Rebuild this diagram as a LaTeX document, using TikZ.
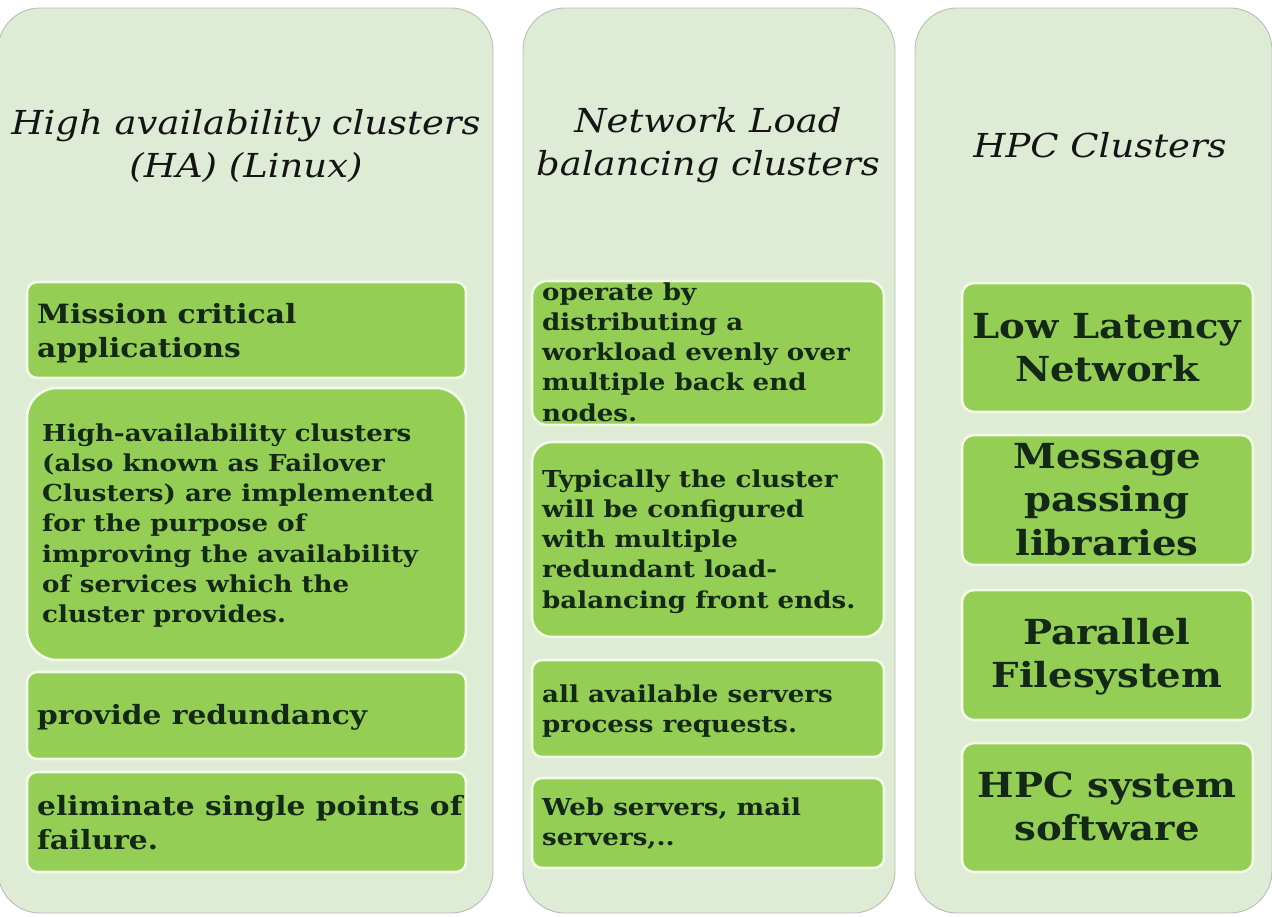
\documentclass[tikz,border=0pt]{standalone}
\usepackage{fontspec}
\setmainfont{DejaVu Serif}[FakeStretch=1.12]
\usetikzlibrary{fit}

\definecolor{colbg}{HTML}{DEECD6}
\definecolor{colrim}{HTML}{B9BEB6}
\definecolor{boxfill}{HTML}{94CE55}
\definecolor{boxrim}{HTML}{F2F9E6}
\definecolor{inkgreen}{HTML}{142818}
\definecolor{inktitle}{HTML}{141414}

% one-line-per-row text blocks whose baseline is the first line
\newcommand\leftlines[1]{\begin{tabular}[t]{@{}l@{}}#1\end{tabular}}
\newcommand\midlines[1]{\begin{tabular}[t]{@{}c@{}}#1\end{tabular}}

\tikzset{
  column/.style={fill=colbg, draw=colrim, line width=0.9pt, rounded corners=42pt},
  item/.style={fill=boxfill, draw=boxrim, line width=2.6pt, rounded corners=#1, inner sep=0pt},
  item/.default=10pt,
  ttl/.style={font=\fontsize{33}{43}\selectfont\itshape, text=inktitle, inner sep=0pt, anchor=base},
  bigtxt/.style={font=\fontsize{26.5}{34.5}\selectfont\bfseries, text=inkgreen, inner sep=0pt, anchor=base west},
  smalltxt/.style={font=\fontsize{23.3}{30.3}\selectfont\bfseries, text=inkgreen, inner sep=0pt, anchor=base west},
  hugetxt/.style={font=\fontsize{34.5}{43.5}\selectfont\bfseries, text=inkgreen, inner sep=0pt, anchor=base},
}

\begin{document}
\begin{tikzpicture}[x=1pt, y=-1pt]
\useasboundingbox (0,0) rectangle (1272,916);

% three column panels
\path[column] (-2,8) rectangle (493,913);
\path[column] (523,8) rectangle (895,913);
\path[column] (915,8) rectangle (1272,913);

% column titles
\node[ttl] (ha) at (246,134) {\midlines{High availability clusters\\(HA) (Linux)}};
\node[ttl] (nlb) at (708,132) {\midlines{Network Load\\balancing clusters}};
\node[ttl] (hpc) at (1100,157) {HPC Clusters};

% --- high availability column
\node[item, fit={(27,282) (466,378)}] (ha1) {};
\node[item=30pt, fit={(27,388) (466,660)}] (ha2) {};
\node[item, fit={(27,672) (466,759)}] (ha3) {};
\node[item, fit={(27,772) (466,872)}] (ha4) {};
\node[bigtxt] (ha1t) at (37,323) {\leftlines{Mission critical\\applications}};
\node[smalltxt] (ha2t) at (42,441) {\leftlines{High-availability clusters\\(also known as Failover\\Clusters) are implemented\\for the purpose of\\improving the availability\\of services which the\\cluster provides.}};
\node[bigtxt] (ha3t) at (37,724) {provide redundancy};
\node[bigtxt] (ha4t) at (37,815) {\leftlines{eliminate single points of\\failure.}};

% --- network load balancing column
\node[item=15pt, fit={(532,281) (884,425)}] (nl1) {};
\node[item=20pt, fit={(532,442) (884,637)}] (nl2) {};
\node[item, fit={(532,660) (884,757)}] (nl3) {};
\node[item, fit={(532,778) (884,868)}] (nl4) {};
\node[smalltxt] (nl1t) at (542,300) {\leftlines{operate by\\distributing a\\workload evenly over\\multiple back end\\nodes.}};
\node[smalltxt] (nl2t) at (542,487) {\leftlines{Typically the cluster\\will be configured\\with multiple\\redundant load-\\balancing front ends.}};
\node[smalltxt] (nl3t) at (542,702) {\leftlines{all available servers\\process requests.}};
\node[smalltxt] (nl4t) at (542,815) {\leftlines{Web servers, mail\\servers,..}};

% --- HPC column
\node[item=12pt, fit={(962,283) (1253,412)}] (hp1) {};
\node[item=12pt, fit={(962,435) (1253,565)}] (hp2) {};
\node[item=12pt, fit={(962,590) (1253,720)}] (hp3) {};
\node[item=12pt, fit={(962,743) (1253,872)}] (hp4) {};
\node[hugetxt] (hp1t) at (1107,338) {\midlines{Low Latency\\Network}};
\node[hugetxt] (hp2t) at (1107,468) {\midlines{Message\\passing\\libraries}};
\node[hugetxt] (hp3t) at (1107,644) {\midlines{Parallel\\Filesystem}};
\node[hugetxt] (hp4t) at (1107,797) {\midlines{HPC system\\software}};
\end{tikzpicture}
\end{document}
